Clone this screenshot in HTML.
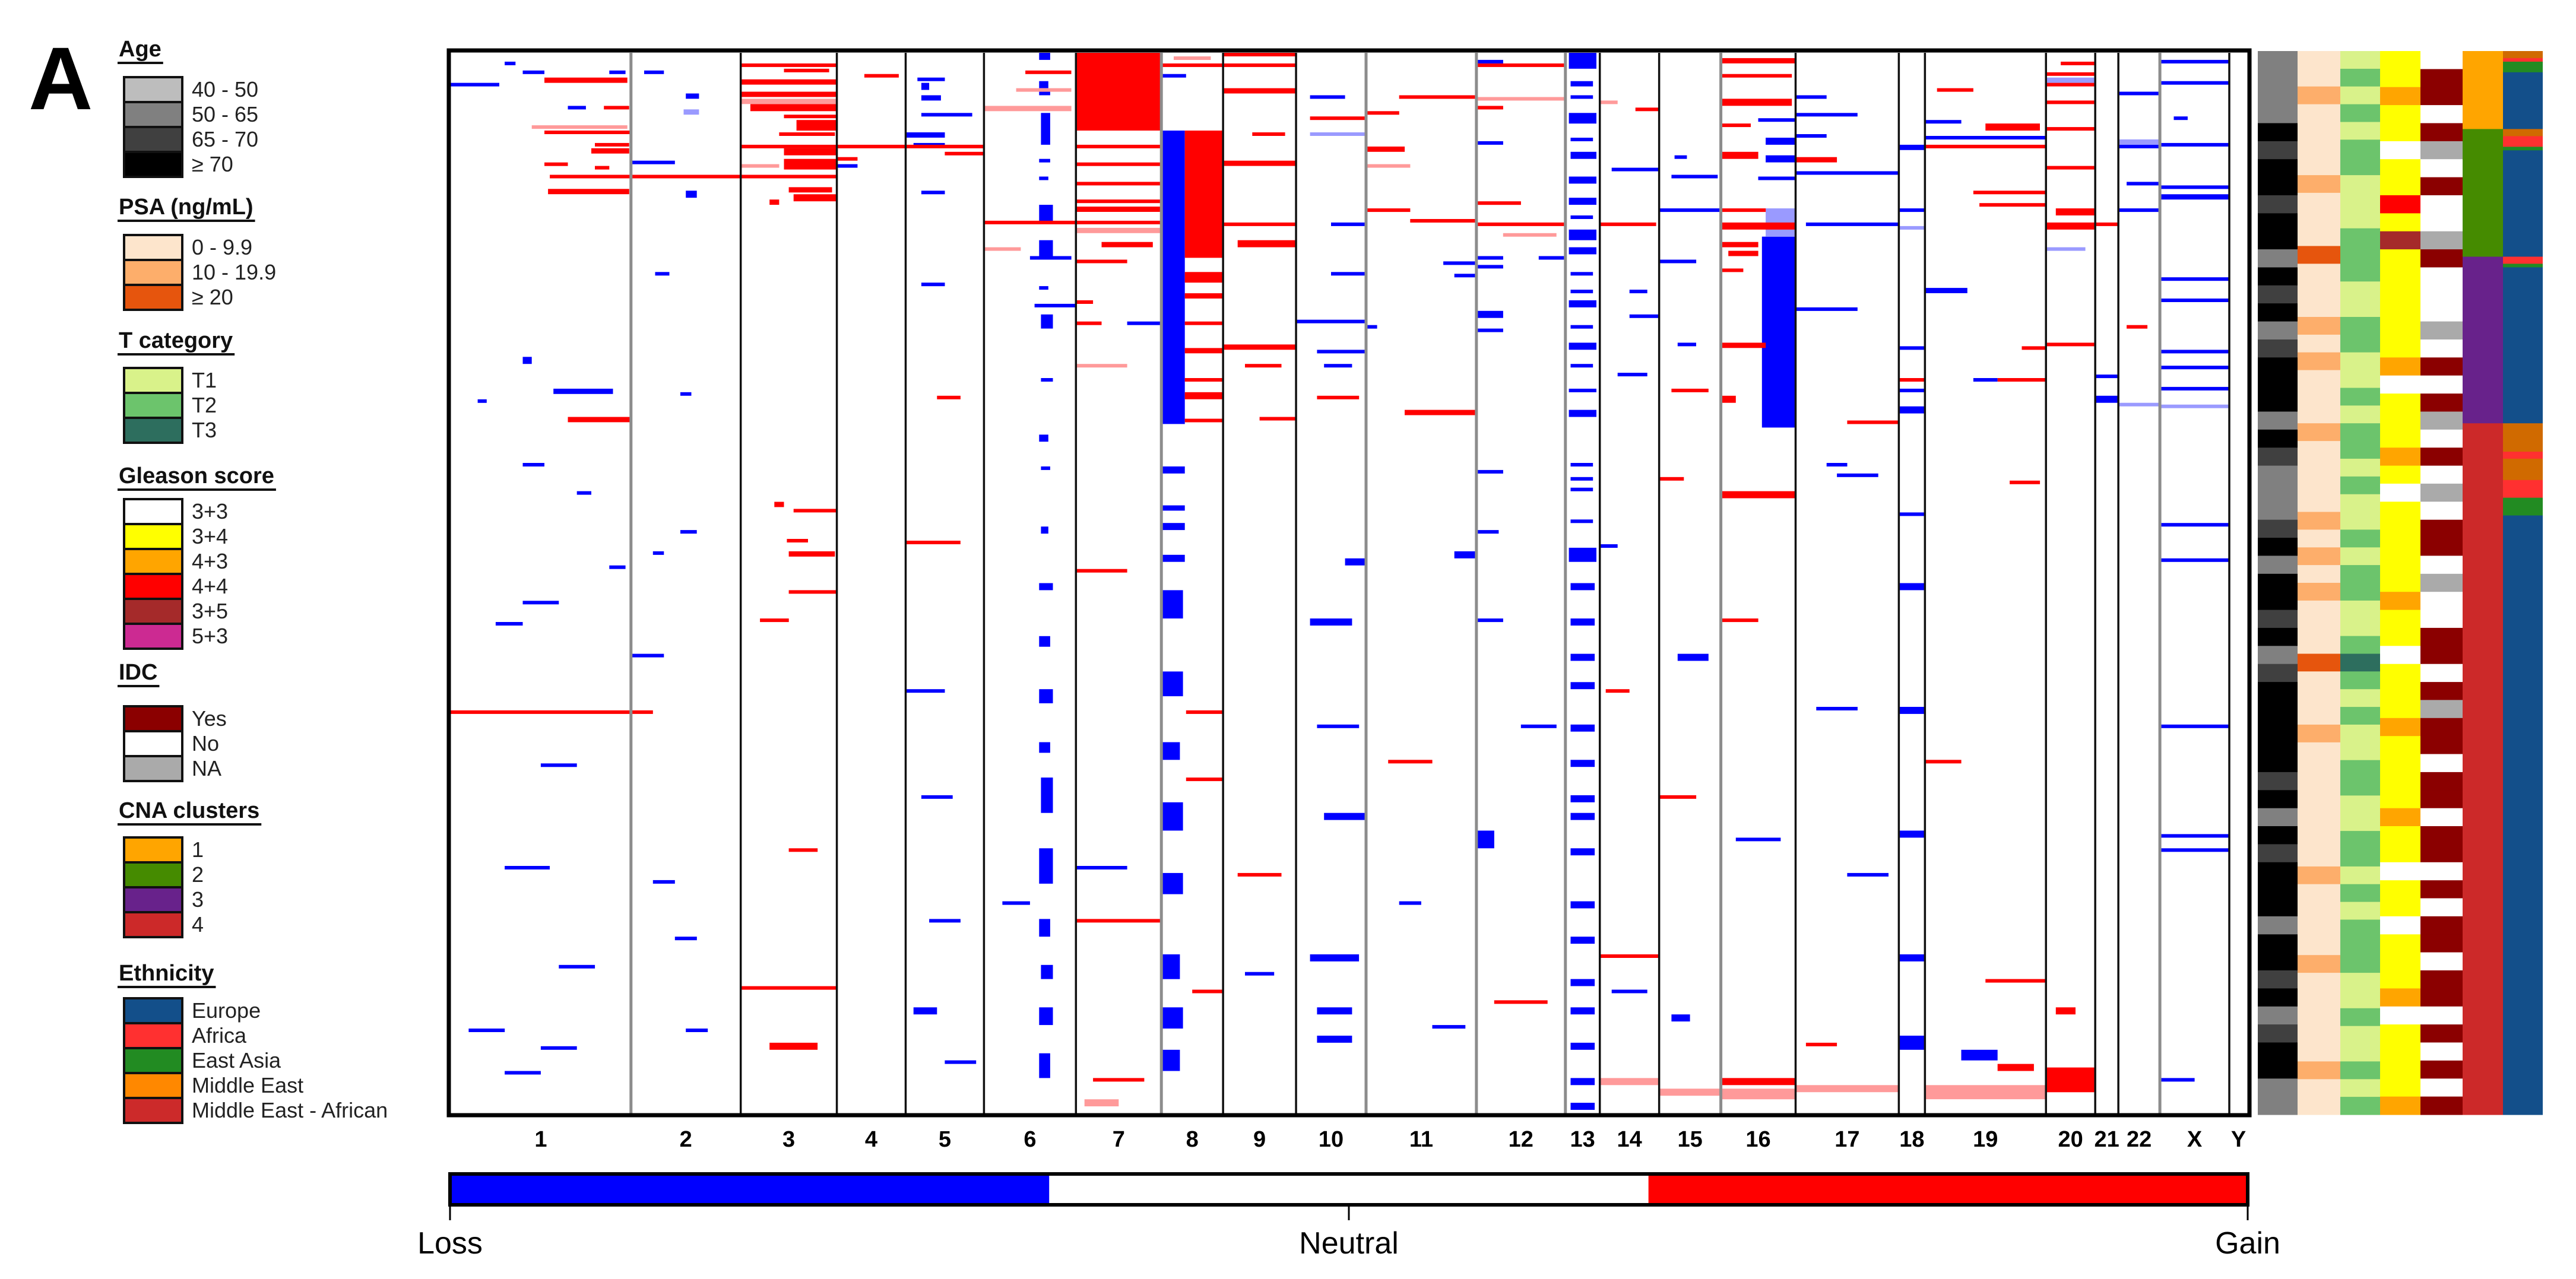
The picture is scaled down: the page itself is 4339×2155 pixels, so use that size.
<!DOCTYPE html>
<html><head><meta charset="utf-8">
<style>
html,body{margin:0;padding:0;background:#fff;}
svg{display:block;font-family:"Liberation Sans",sans-serif;}
</style></head>
<body>
<svg id="fig" width="4339" height="2155" viewBox="0 0 4339 2155" xmlns="http://www.w3.org/2000/svg">
<rect x="0" y="0" width="4339" height="2155" fill="#fff"/>
<text x="48" y="184" font-size="150" font-weight="bold">A</text>
<g id="legend"></g>
<g id="heat"></g>
<g id="side"></g>
<g id="labels"></g>
<g id="cbar"></g>
</svg>
<script>
// ---- data ----
const chromNames = ["1","2","3","4","5","6","7","8","9","10","11","12","13","14","15","16","17","18","19","20","21","22","X","Y"];
const chromWeights = [304,185,162,116,132,155,144,104,123,118,186,150,58,100,104,126,174,44,204,83,39,70,117,31];
const grayDividers = [1,7,10,11,12,15,22];
const nSamples = 300;
// [chromosome, startFrac, endFrac, rowStart, rowEnd, value]
const segments = [
[1,0,0.27,8.5,9.5,-1],[1,0.52,0.98,7,8.5,1],[1,0.65,0.75,15,16,-1],[1,0.85,0.99,15,16,1],[1,0.45,0.98,20.5,21.5,0.5],[1,0.52,1,22,23,1],[1,0.8,0.99,25.5,26.5,1],[1,0.78,0.99,27,28.5,1],[1,0.52,0.65,31,32,1],[1,0.8,0.88,32,33,1],[1,0.54,0.99,38.5,40,1],[1,0.4,0.52,5,6,-1],[1,0.88,0.97,5,6,-1],[1,0.3,0.36,2.5,3.5,-1],[1,0.57,0.9,95,96.5,-1],[1,0.65,1,103,104.5,1],[1,0.4,0.45,86,88,-1],[1,0.4,0.52,116,117,-1],[1,0.7,0.78,124,125,-1],[1,0.15,0.2,98,99,-1],[1,0.88,0.97,145,146,-1],[1,0.55,1,34.5,35.5,1],
[2,0,1,34.5,35.5,1],[2,0.12,0.3,5,6,-1],[2,0.5,0.62,11.5,13,-1],[2,0.48,0.62,16,17.5,-0.5],[2,0,0.4,30.5,31.5,-1],[2,0.5,0.6,39,41,-1],[2,0.22,0.35,62,63,-1],[2,0.45,0.55,96,97,-1],[2,0.45,0.6,135,136,-1],[2,0.2,0.3,141,142,-1],
[3,0,1,3,4,1],[3,0.45,0.92,4.5,5.5,1],[3,0,1,7.5,9,1],[3,0,1,11,12.5,1],[3,0,1,13,14.5,0.5],[3,0.1,1,14.5,16.5,1],[3,0.45,1,17.5,18.5,1],[3,0.58,1,19,22,1],[3,0.4,0.98,22.5,23.5,1],[3,0,1,26,27,1],[3,0.45,1,27,29,1],[3,0.45,1,30,33,1],[3,0,0.4,31.5,32.5,0.5],[3,0,1,34.5,35.5,1],[3,0.5,0.95,38,39.5,1],[3,0.55,1,40,42,1],[3,0.3,0.4,41.5,43,1],[3,0.55,1,129,130,1],[3,0.5,0.98,141,142.5,1],[3,0.48,0.7,137.5,138.5,1],[3,0.35,0.45,127,128.5,1],
[4,0.4,0.9,6,7,1],[4,0,1,26,27,1],[4,0,0.3,29.5,30.5,1],[4,0,0.3,31.5,32.5,-1],
[5,0.15,0.5,7,8,-1],[5,0.2,0.3,8.5,10.5,-1],[5,0.2,0.45,12,13.5,-1],[5,0.2,0.85,17,18,-1],[5,0,0.5,22.5,24,-1],[5,0.1,0.5,25.5,26.5,-1],[5,0,1,26,27,1],[5,0.5,1,28,29,1],[5,0.2,0.5,39,40,-1],[5,0.2,0.5,65,66,-1],[5,0.4,0.7,97,98,1],[5,0,0.7,138,139,1],
[6,0.6,0.72,0,2,-1],[6,0.6,0.7,8,10,-1],[6,0.6,0.72,11,12,-1],[6,0.62,0.72,17,26,-1],[6,0.6,0.72,30,31,-1],[6,0.6,0.7,35,36,-1],[6,0.6,0.75,43,48,-1],[6,0.6,0.75,53,58,-1],[6,0.5,0.95,57.5,58.5,-1],[6,0.6,0.7,66,67,-1],[6,0.55,1,71,72,-1],[6,0.62,0.75,74,78,-1],[6,0.62,0.75,92,93,-1],[6,0.6,0.7,108,110,-1],[6,0.62,0.72,117,118,-1],[6,0.62,0.7,134,136,-1],[6,0,1,47.5,48.5,1],[6,0,0.95,15,16.5,0.5],[6,0.35,0.95,10,11,0.5],[6,0.45,0.95,5,6,1],[6,0,0.4,55,56,0.5],
[7,0,1,0,22,1],[7,0,1,26,27,1],[7,0,1,31,32,1],[7,0,1,36.5,37.5,1],[7,0,1,41.5,42.5,1],[7,0,1,43.5,45,1],[7,0,1,47.5,48.5,1],[7,0,1,49.5,51,0.5],[7,0.3,0.9,53.5,55,1],[7,0,0.6,58.5,59.5,1],[7,0,0.2,70,71,1],[7,0,0.3,76,77,1],[7,0.6,1,76,77,-1],[7,0,0.6,88,89,0.5],[7,0,0.6,146,147,1],
[8,0,0.38,22,105,-1],[8,0.38,1,22,58,1],[8,0.38,1,62,65,1],[8,0.38,1,68,69.5,1],[8,0.38,1,76,77,1],[8,0.38,1,83.5,85,1],[8,0.38,1,92,93,1],[8,0.38,1,96,98,1],[8,0.38,1,103.5,104.5,1],[8,0,0.38,117,119,-1],[8,0,0.38,128,129.5,-1],[8,0,0.38,133,135,-1],[8,0,0.38,142,144,-1],[8,0.2,0.8,1,2,0.5],[8,0,1,3,4,1],[8,0,0.4,6,7,-1],
[9,0,1,0,1,1],[9,0,1,3,4,1],[9,0,1,10,11.5,1],[9,0,1,30.5,32,1],[9,0.4,0.85,22.5,23.5,1],[9,0,1,48,49,1],[9,0.2,1,53,55,1],[9,0,1,82.5,84,1],[9,0.3,0.8,88,89,1],[9,0.5,1,103,104,1],
[10,0.2,0.7,12,13,-1],[10,0.2,1,18,19,1],[10,0,1,75.5,76.5,-1],[10,0.3,1,84,85,-1],[10,0.4,0.8,88,89,-1],[10,0.2,1,22.5,23.5,-0.5],[10,0.5,1,48,49,-1],[10,0.5,1,62,63,-1],[10,0.3,0.9,97,98,1],[10,0.7,1,143,145,-1],
[11,0,0.3,16.5,17.5,1],[11,0.3,1,12,13,1],[11,0,0.35,26.5,28,1],[11,0,0.4,31.5,32.5,0.5],[11,0,0.4,44,45,1],[11,0.4,1,47,48,1],[11,0.7,1,59,60,-1],[11,0.8,1,62.5,63.5,-1],[11,0,0.1,77,78,-1],[11,0.35,1,101,102.5,1],[11,0.8,1,141,143,-1],
[12,0,1,3,4,1],[12,0,0.3,2,3,-1],[12,0,1,12.5,13.5,0.5],[12,0,0.3,15,16,1],[12,0,0.3,25,26,-1],[12,0,0.5,42,43,1],[12,0,1,48,49,1],[12,0.3,0.9,51,52,0.5],[12,0,0.3,57.5,58.5,-1],[12,0.7,1,57.5,58.5,-1],[12,0,0.3,60,61,-1],[12,0,0.3,73,75,-1],[12,0,0.3,78,79,-1],[12,0,0.3,118,119,-1],[12,0,0.25,135,136,-1],
[13,0.1,0.9,0,4.5,-1],[13,0.15,0.8,8,9.5,-1],[13,0.15,0.8,12,13,-1],[13,0.1,0.9,17,20,-1],[13,0.15,0.8,24,25,-1],[13,0.15,0.9,28,30,-1],[13,0.1,0.9,35,37,-1],[13,0.1,0.9,41,43,-1],[13,0.15,0.8,46,47,-1],[13,0.1,0.9,50,53,-1],[13,0.1,0.9,55,57,-1],[13,0.15,0.8,62,63,-1],[13,0.15,0.8,67,68,-1],[13,0.1,0.9,70,72,-1],[13,0.15,0.8,77,78,-1],[13,0.1,0.9,82,84,-1],[13,0.15,0.8,88,89,-1],[13,0.1,0.9,95,96,-1],[13,0.1,0.9,101,103,-1],[13,0.15,0.8,116,117,-1],[13,0.15,0.8,120,121,-1],[13,0.15,0.8,123,124,-1],[13,0.15,0.8,132,133,-1],[13,0.1,0.9,140,144,-1],
[14,0,0.3,13.5,14.5,0.5],[14,0.6,1,15.5,16.5,1],[14,0,0.95,48,49,1],[14,0.2,1,32.5,33.5,-1],[14,0.5,0.8,67,68,-1],[14,0.5,1,74,75,-1],[14,0.3,0.8,90.5,91.5,-1],[14,0,0.3,139,140,-1],
[15,0.2,0.95,34.5,35.5,-1],[15,0,1,44,45,-1],[15,0.25,0.45,29,30,-1],[15,0,0.6,58.5,59.5,-1],[15,0.3,0.6,82,83,-1],[15,0.2,0.8,95,96,1],[15,0,0.4,120,121,1],
[16,0.55,1,52,106,-1],[16,0.6,1,44,52,-0.5],[16,0,1,1.5,3,1],[16,0,0.95,6,7,1],[16,0,0.95,13,15,1],[16,0,0.4,20,21,1],[16,0,0.5,28,30,1],[16,0,0.6,44,45,1],[16,0,1,48,50,1],[16,0,0.5,53.5,55,1],[16,0.1,0.5,56,57.5,1],[16,0,0.3,61,62,1],[16,0,0.6,82,83.5,1],[16,0,0.2,97,99,1],[16,0.6,1,29,31,-1],[16,0.5,1,35,36,-1],[16,0.6,1,24,26,-1],[16,0,1,124,126,1],[16,0.5,1,18.5,19.5,-1],
[17,0,0.3,12,13,-1],[17,0,0.6,17,18,-1],[17,0,0.3,23,24,-1],[17,0,0.4,29.5,31,1],[17,0,1,33.5,34.5,-1],[17,0.1,1,48,49,-1],[17,0,0.6,72,73,-1],[17,0.5,1,104,105,1],[17,0.3,0.5,116,117,-1],[17,0.4,0.8,119,120,-1],
[18,0,1,26,27.5,-1],[18,0,1,44,45,-1],[18,0,1,49,50,-0.5],[18,0,1,83,84,-1],[18,0,1,92,93,1],[18,0,1,100,102,-1],[18,0,1,95,96,-1],[18,0,1,130,131,-1],
[19,0,1,23.5,24.5,-1],[19,0,1,26,27,1],[19,0,0.3,19,20,-1],[19,0.4,1,39,40,1],[19,0.45,1,42.5,43.5,1],[19,0.5,0.95,20,22,1],[19,0,0.35,66.5,68,-1],[19,0.4,0.6,92,93,-1],[19,0.6,1,92,93,1],[19,0.8,1,83,84,1],[19,0.7,0.95,121,122,1],[19,0.1,0.4,10,11,1],
[20,0.3,1,2.5,3.5,1],[20,0,1,5.5,6.5,1],[20,0,1,7,8.5,-0.5],[20,0,1,8.5,9.5,1],[20,0,1,13.5,14.5,1],[20,0,1,21,22,1],[20,0,1,32,33,1],[20,0.2,1,44,46,1],[20,0,1,48,50,1],[20,0,0.8,55,56,-0.5],[20,0,1,82,83,1],
[21,0,1,48,49,1],[21,0,1,91,92,-1],[21,0,1,97,99,-1],
[22,0,1,11,12,-1],[22,0,1,24.5,26,-0.5],[22,0,1,26,27,-1],[22,0.2,1,36.5,37.5,-1],[22,0,1,44,45,-1],[22,0.2,0.7,77,78,1],[22,0,1,99,100,-0.5],
[23,0,1,2,3,-1],[23,0,1,8,9,-1],[23,0.2,0.4,18,19,-1],[23,0,1,25.5,26.5,-1],[23,0,1,37.5,38.5,-1],[23,0,1,40,41.5,-1],[23,0,1,63.5,64.5,-1],[23,0,1,69.5,70.5,-1],[23,0,1,84,85,-1],[23,0,1,88.5,89.5,-1],[23,0,1,94.5,95.5,-1],[23,0,1,99.5,100.5,-0.5],[23,0,1,133,134,-1],[23,0,1,143,144,-1],[23,0,1,190,191,-1],[23,0,1,221,222,-1],[23,0,1,225,226,-1],[23,0,0.5,290,291,-1],
[1,0,1,186,187,1],[2,0,0.2,186,187,1],[8,0.4,1,186,187,1],
[1,0.4,0.6,155,156,-1],[1,0.25,0.4,161,162,-1],[1,0.5,0.7,201,202,-1],[1,0.3,0.55,230,231,-1],[1,0.6,0.8,258,259,-1],[1,0.1,0.3,276,277,-1],[1,0.5,0.7,281,282,-1],[1,0.3,0.5,288,289,-1],
[2,0.2,0.4,234,235,-1],[2,0.4,0.6,250,251,-1],[2,0.5,0.7,276,277,-1],[2,0,0.3,170,171,-1],
[3,0,1,264,265,1],[3,0.3,0.8,280,282,1],[3,0.5,0.8,225,226,1],[3,0.2,0.5,160,161,1],[3,0.5,1,152,153,1],
[5,0.2,0.6,210,211,-1],[5,0.3,0.7,245,246,-1],[5,0.1,0.4,270,272,-1],[5,0.5,0.9,285,286,-1],[5,0,0.5,180,181,-1],
[6,0.6,0.75,150,152,-1],[6,0.6,0.72,165,168,-1],[6,0.6,0.75,180,184,-1],[6,0.6,0.72,195,198,-1],[6,0.62,0.75,205,215,-1],[6,0.6,0.75,225,235,-1],[6,0.6,0.72,245,250,-1],[6,0.62,0.75,258,262,-1],[6,0.6,0.75,270,275,-1],[6,0.6,0.72,283,290,-1],[6,0.2,0.5,240,241,-1],
[7,0,1,245,246,1],[7,0,0.6,230,231,-1],[7,0.2,0.8,290,291,1],[7,0.1,0.5,296,298,0.5],
[8,0,0.35,152,160,-1],[8,0,0.35,175,182,-1],[8,0,0.3,195,200,-1],[8,0,0.35,212,220,-1],[8,0,0.35,232,238,-1],[8,0,0.3,255,262,-1],[8,0,0.35,270,276,-1],[8,0,0.3,282,288,-1],[8,0.4,1,205,206,1],[8,0.5,1,265,266,1],
[9,0.2,0.8,232,233,1],[9,0.3,0.7,260,261,-1],
[10,0.2,0.8,160,162,-1],[10,0.3,0.9,190,191,-1],[10,0.4,1,215,217,-1],[10,0.2,0.9,255,257,-1],[10,0.3,0.8,270,272,-1],[10,0.3,0.8,278,280,-1],
[11,0.3,0.5,240,241,-1],[11,0.6,0.9,275,276,-1],[11,0.2,0.6,200,201,1],
[12,0,0.3,160,161,-1],[12,0.2,0.8,268,269,1],[12,0,0.2,220,225,-1],[12,0.5,0.9,190,191,-1],
[13,0.15,0.85,150,152,-1],[13,0.15,0.85,160,162,-1],[13,0.15,0.85,170,172,-1],[13,0.15,0.85,178,180,-1],[13,0.15,0.85,190,192,-1],[13,0.15,0.85,200,202,-1],[13,0.15,0.85,210,212,-1],[13,0.15,0.85,215,217,-1],[13,0.15,0.85,225,227,-1],[13,0.15,0.85,240,242,-1],[13,0.15,0.85,250,252,-1],[13,0.15,0.85,262,264,-1],[13,0.15,0.85,270,272,-1],[13,0.15,0.85,280,282,-1],[13,0.15,0.85,290,292,-1],[13,0.15,0.85,297,299,-1],
[14,0.1,0.5,180,181,1],[14,0.2,0.8,265,266,-1],[14,0,1,255,256,1],
[15,0.3,0.8,170,172,-1],[15,0,0.6,210,211,1],[15,0.2,0.5,272,274,-1],
[16,0,0.5,160,161,1],[16,0.2,0.8,222,223,-1],[16,0,1,290,292,1],
[17,0.2,0.6,185,186,-1],[17,0.5,0.9,232,233,-1],[17,0.1,0.4,280,281,1],
[18,0,1,150,152,-1],[18,0,1,185,187,-1],[18,0,1,220,222,-1],[18,0,1,255,257,-1],[18,0,1,278,282,-1],
[19,0.5,1,262,263,1],[19,0.3,0.6,282,285,-1],[19,0.6,0.9,286,288,1],[19,0,0.3,200,201,1],
[20,0,1,287,294,1],[20,0.2,0.6,270,272,1],
[15,0,1,293,295,0.5],[16,0,1,293,296,0.5],[17,0,1,292,294,0.5],[19,0,1,292,296,0.5],[14,0,1,290,292,0.5]
];
// annotation tracks (each char = equal share of samples)
const ageTrack  = "ggggkdkkdkkgkdkgdkkkgkdgggdkgkkdkgdkkkkkdkgkdkkkgkkdkgdkkgg";
const psaTrack  = "aabaaaabaaacaaababaaabaaaabababaaacaaabaaaaaaabaaaabaaaaabaa";
const tTrack    = "abababbaaabbbaabbaababbabaababbaabcbabaabbaabbababbbaabaabab";
const gleTrack  = "yyoyywyyrymyyyyyyowyyyoywyyyyyoyywyyyoyyyyoyywyywyyyowyyyyo";
const idcTrack  = "wrrwrnwrwwnrwwwnwrwrnwrwnwrrwnwwrrwrnrrwrrwrrwrwrrwrrwrwrwr";
const cnaRuns   = [[22,"1"],[36,"2"],[47,"3"],[195,"4"]];
const ethRuns   = [[2,"ME"],[1,"AF"],[3,"EA"],[16,"EU"],[2,"ME"],[3,"AF"],[1,"EA"],[30,"EU"],[2,"AF"],[1,"EA"],[44,"EU"],[8,"ME"],[2,"AF"],[6,"ME"],[5,"AF"],[5,"EA"],[169,"EU"]];
const scaleLabels = ["Loss","Neutral","Gain"];

// ---- style maps ----
const NS="http://www.w3.org/2000/svg";
function mk(tag,attrs,parent){const e=document.createElementNS(NS,tag);for(const k in attrs)e.setAttribute(k,attrs[k]);parent.appendChild(e);return e;}
const valColor=v=>v>=1?"#ff0000":v>0?"#ff9a9a":v<=-1?"#0000ff":"#9a9aff";
const ageCol={l:"#bdbdbd",g:"#808080",d:"#404040",k:"#000000"};
const psaCol={a:"#fde5cc",b:"#fdae6b",c:"#e6550d"};
const tCol={a:"#d9f28a",b:"#6cc46c",c:"#2d6e5e"};
const gleCol={w:"#ffffff",y:"#ffff00",o:"#ffa500",r:"#ff0000",m:"#a52a2a",p:"#cc2a92"};
const idcCol={r:"#8b0000",w:"#ffffff",n:"#aaaaaa"};
const cnaCol={"1":"#ffa500","2":"#458b00","3":"#68228b","4":"#cc2929"};
const ethCol={EU:"#134f8a",AF:"#ff3030",EA:"#228b22",ME:"#d06a00",MA:"#cc2a2a"};

// ---- heatmap axes ----
const HX0=759,HX1=3786,HY0=89,HY1=1876;
const totalW=chromWeights.reduce((a,b)=>a+b,0);
const chromStart=[];let acc=0;
chromWeights.forEach(w=>{chromStart.push(acc);acc+=w;});
const xScale=(c,f)=>HX0+(chromStart[c-1]+f*chromWeights[c-1])/totalW*(HX1-HX0);
const yScale=r=>HY0+r/nSamples*(HY1-HY0);

const heat=document.getElementById("heat");
mk("rect",{x:HX0,y:HY0,width:HX1-HX0,height:HY1-HY0,fill:"#fff"},heat);
segments.forEach(s=>{
  const [c,f0,f1,r0,r1,v]=s;
  const x0=xScale(c,f0),x1=xScale(c,f1),y0=yScale(r0),y1=yScale(r1);
  const e=mk("rect",{x:x0.toFixed(1),y:y0.toFixed(1),width:Math.max(2,x1-x0).toFixed(1),height:Math.max(3,y1-y0).toFixed(1),fill:valColor(v)},heat);
  
  
});
for(let c=2;c<=chromNames.length;c++){
  const x=xScale(c,0);
  const gray=grayDividers.includes(c-1);
  const e=mk("line",{x1:x,x2:x,y1:HY0,y2:HY1,stroke:gray?"#8c8c8c":"#111","stroke-width":gray?5:3.5},heat);
  
  
}
const frame=mk("rect",{x:HX0-3,y:HY0-4,width:HX1-HX0+6,height:HY1-HY0+7,fill:"none",stroke:"#000","stroke-width":7},heat);



// chromosome labels
const labels=document.getElementById("labels");
chromNames.forEach((n,i)=>{
  const x=(xScale(i+1,0)+xScale(i+1,1))/2;
  const t=mk("text",{x:x.toFixed(1),y:1932,"font-size":38,"font-weight":"bold","text-anchor":"middle",fill:"#000"},labels);
  t.textContent=n;
  
  
});

// ---- annotation tracks ----
const side=document.getElementById("side");
const SY0=86,SY1=1878;
const sy=r=>SY0+r/nSamples*(SY1-SY0);
function drawString(str,map,x0,x1,name){
  const n=str.length;
  for(let i=0;i<n;i++){
    const r0=i*nSamples/n,r1=(i+1)*nSamples/n;
    const e=mk("rect",{x:x0,y:sy(r0).toFixed(1),width:x1-x0,height:(sy(r1)-sy(r0)+0.6).toFixed(1),fill:map[str[i]]},side);
    
    
  }
}
function drawRuns(runs,map,x0,x1,name){
  let r=0;
  runs.forEach(([len,k])=>{
    const e=mk("rect",{x:x0,y:sy(r).toFixed(1),width:x1-x0,height:(sy(r+len)-sy(r)+0.6).toFixed(1),fill:map[k]},side);
    
    
    r+=len;
  });
}
drawString(ageTrack,ageCol,3803,3870,"age-track-cell");
drawString(psaTrack,psaCol,3870,3942,"psa-track-cell");
drawString(tTrack,tCol,3942,4009,"t-category-track-cell");
drawString(gleTrack,gleCol,4009,4077,"gleason-track-cell");
drawString(idcTrack,idcCol,4077,4148,"idc-track-cell");
drawRuns(cnaRuns,cnaCol,4148,4216,"cna-cluster-track-cell");
drawRuns(ethRuns,ethCol,4216,4283,"ethnicity-track-cell");

// ---- legend ----
const legend=document.getElementById("legend");
const legendBlocks=[
 {title:"Age",ty:95,sy:130,items:[["40 - 50","#bdbdbd"],["50 - 65","#808080"],["65 - 70","#404040"],["\u2265 70","#000000"]]},
 {title:"PSA (ng/mL)",ty:361,sy:396,items:[["0 - 9.9","#fde5cc"],["10 - 19.9","#fdae6b"],["\u2265 20","#e6550d"]]},
 {title:"T category",ty:586,sy:620,items:[["T1","#d9f28a"],["T2","#6cc46c"],["T3","#2d6e5e"]]},
 {title:"Gleason score",ty:814,sy:841,items:[["3+3","#ffffff"],["3+4","#ffff00"],["4+3","#ffa500"],["4+4","#ff0000"],["3+5","#a52a2a"],["5+3","#cc2a92"]]},
 {title:"IDC",ty:1145,sy:1190,items:[["Yes","#8b0000"],["No","#ffffff"],["NA","#aaaaaa"]]},
 {title:"CNA clusters",ty:1378,sy:1411,items:[["1","#ffa500"],["2","#458b00"],["3","#68228b"],["4","#cc2929"]]},
 {title:"Ethnicity",ty:1652,sy:1682,items:[["Europe","#134f8a"],["Africa","#ff3030"],["East Asia","#228b22"],["Middle East","#ff8800"],["Middle East - African","#cc2a2a"]]}
];
legendBlocks.forEach(b=>{
  const t=mk("text",{x:200,y:b.ty,"font-size":38,"font-weight":"bold",fill:"#111"},legend);
  t.textContent=b.title;
  
  
  const w=t.getComputedTextLength?t.getComputedTextLength():200;
  const u=mk("line",{x1:198,x2:200+w+3,y1:b.ty+11,y2:b.ty+11,stroke:"#111","stroke-width":4},legend);
  
  
  b.items.forEach((it,i)=>{
    const y=b.sy+i*42;
    const r=mk("rect",{x:209,y:y,width:98,height:42,fill:it[1],stroke:"#111","stroke-width":4},legend);
    
    
    const l=mk("text",{x:323,y:y+33,"font-size":36,fill:"#222"},legend);
    l.textContent=it[0];
    
    
  });
});

// ---- color scale ----
const cbar=document.getElementById("cbar");
const CX0=758,CX1=3786,CY0=1978,CY1=2030;
const segW=(CX1-CX0)/3;
["#0000ff","#ffffff","#ff0000"].forEach((c,i)=>{
  const e=mk("rect",{x:CX0+i*segW,y:CY0,width:segW,height:CY1-CY0,fill:c},cbar);
  
  
});
const cf=mk("rect",{x:CX0,y:CY0,width:CX1-CX0,height:CY1-CY0,fill:"none",stroke:"#000","stroke-width":6},cbar);


scaleLabels.forEach((s,i)=>{
  const x=CX0+i*(CX1-CX0)/2;
  const tk=mk("line",{x1:x,x2:x,y1:CY1,y2:2056,stroke:"#000","stroke-width":3},cbar);
  
  
  const t=mk("text",{x:x,y:2112,"font-size":52,"text-anchor":"middle",fill:"#000"},cbar);
  t.textContent=s;
  
  
});
</script>
</body></html>
